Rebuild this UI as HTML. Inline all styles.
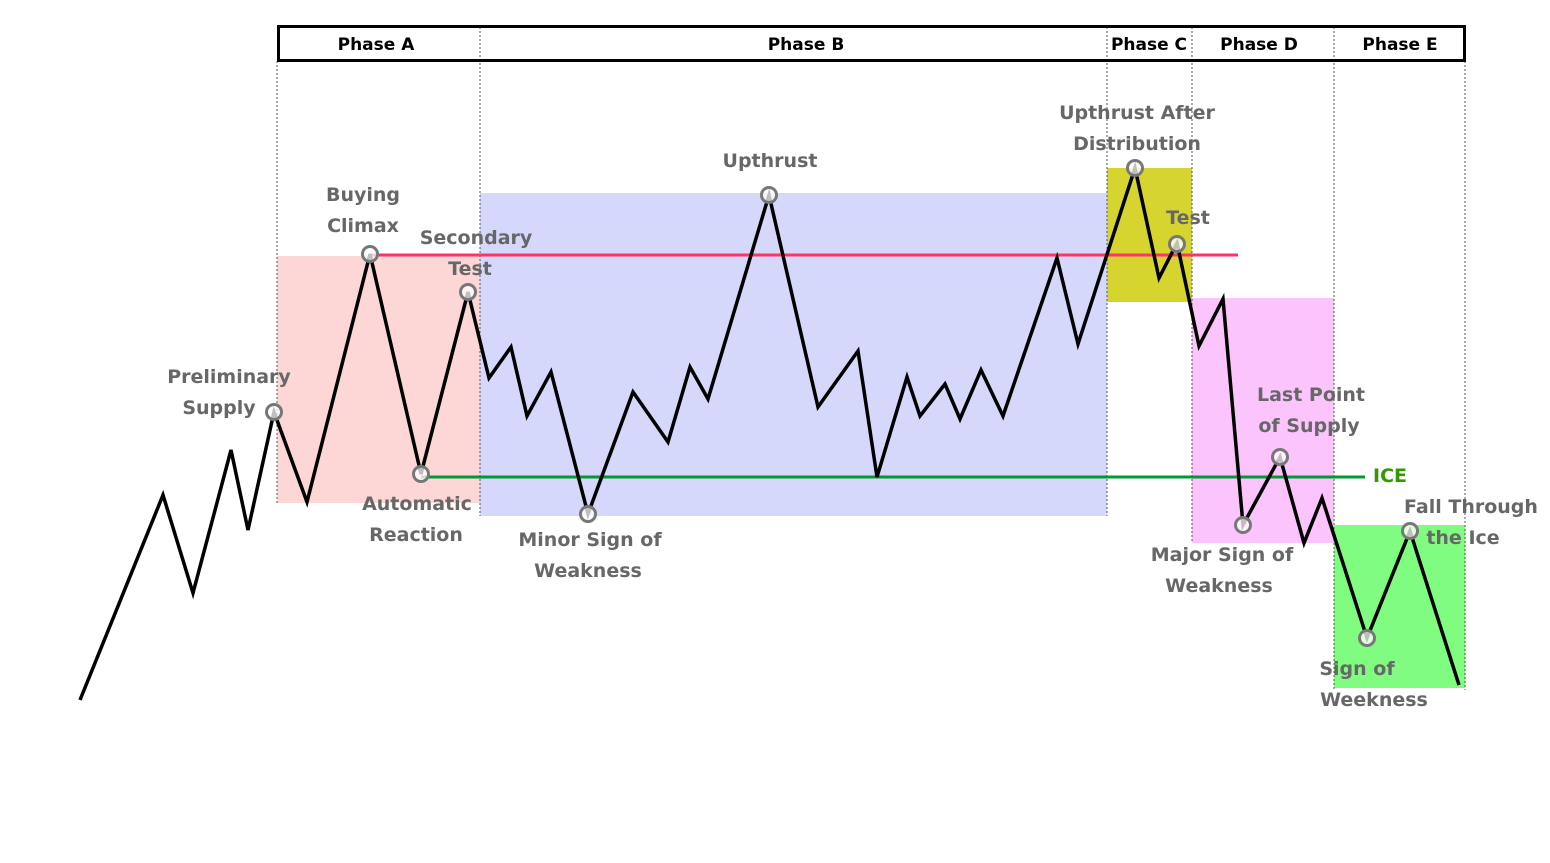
<!DOCTYPE html>
<html><head><meta charset="utf-8"><style>
html,body{margin:0;padding:0;background:#fff;}
svg{display:block;}
.l{font-family:"DejaVu Sans","Liberation Sans",sans-serif;font-weight:bold;font-size:19px;fill:#676767;text-anchor:middle;}
.p{font-family:"DejaVu Sans","Liberation Sans",sans-serif;font-weight:bold;font-size:17px;fill:#000;text-anchor:middle;}
</style></head><body>
<svg width="1550" height="863" viewBox="0 0 1550 863" xmlns="http://www.w3.org/2000/svg">
<rect x="277" y="256" width="203" height="247" fill="#fdd6d6"/>
<rect x="480" y="193" width="627" height="323" fill="#d5d8fb"/>
<rect x="1107" y="168" width="85" height="134" fill="#d6d530"/>
<rect x="1192" y="298" width="142" height="245" fill="#fcc4fc"/>
<rect x="1334" y="525" width="131" height="163" fill="#80fd80"/>
<g stroke="#555" stroke-width="1" stroke-dasharray="2,2">
<line x1="277" y1="61" x2="277" y2="503"/>
<line x1="480" y1="27" x2="480" y2="516"/>
<line x1="1107" y1="27" x2="1107" y2="516"/>
<line x1="1192" y1="27" x2="1192" y2="543"/>
<line x1="1334" y1="27" x2="1334" y2="690"/>
<line x1="1465" y1="61" x2="1465" y2="690"/>
</g>
<rect x="278.5" y="26.5" width="1186" height="34" fill="none" stroke="#000" stroke-width="3"/>
<text class="p" x="376" y="50">Phase A</text>
<text class="p" x="806" y="50">Phase B</text>
<text class="p" x="1149" y="50">Phase C</text>
<text class="p" x="1259" y="50">Phase D</text>
<text class="p" x="1400" y="50">Phase E</text>
<line x1="370" y1="255" x2="1238" y2="255" stroke="#ff3366" stroke-width="3"/>
<line x1="421" y1="477" x2="1365" y2="477" stroke="#009933" stroke-width="3"/>
<polyline fill="none" stroke="#000" stroke-width="3.5" stroke-linejoin="miter" points="80,700 163,495 193,593 231,450 248,530 274,412 307,502 370,254 421,474 468,292 489,378 511,347 527,416 551,372 588,514 633,392 668,442 690,367 708,399 769,195 818,407 858,351 877,477 907,377 920,416 945,384 960,419 981,370 1003,416 1057,258 1078,344 1135,168 1159,278 1177,243 1199,346 1223,299 1243,525 1280,457 1304,543 1322,498 1367,638 1410,531 1459,685"/>
<g fill="rgba(255,255,255,0.75)" stroke="#777" stroke-width="3">
<circle cx="274" cy="412" r="7.5"/><circle cx="370" cy="254" r="7.5"/><circle cx="421" cy="474" r="7.5"/>
<circle cx="468" cy="292" r="7.5"/><circle cx="588" cy="514" r="7.5"/><circle cx="769" cy="195" r="7.5"/>
<circle cx="1135" cy="168" r="7.5"/><circle cx="1177" cy="244" r="7.5"/><circle cx="1243" cy="525" r="7.5"/>
<circle cx="1280" cy="457" r="7.5"/><circle cx="1367" cy="638" r="7.5"/><circle cx="1410" cy="531" r="7.5"/>
</g>
<text class="l" x="229" y="383">Preliminary</text><text class="l" x="219" y="414">Supply</text>
<text class="l" x="363" y="201">Buying</text><text class="l" x="363" y="232">Climax</text>
<text class="l" x="476" y="244">Secondary</text><text class="l" x="470" y="275">Test</text>
<text class="l" x="417" y="510">Automatic</text><text class="l" x="416" y="541">Reaction</text>
<text class="l" x="590" y="546">Minor Sign of</text><text class="l" x="588" y="577">Weakness</text>
<text class="l" x="770" y="167">Upthrust</text>
<text class="l" x="1137" y="119">Upthrust After</text><text class="l" x="1137" y="150">Distribution</text>
<text class="l" x="1188" y="224">Test</text>
<text class="l" x="1311" y="401">Last Point</text><text class="l" x="1309" y="432">of Supply</text>
<text class="l" x="1222" y="561">Major Sign of</text><text class="l" x="1219" y="592">Weakness</text>
<text class="l" x="1471" y="513">Fall Through</text><text class="l" x="1463" y="544">the Ice</text>
<text class="l" x="1357" y="675">Sign of</text><text class="l" x="1374" y="706">Weekness</text>
<text x="1390" y="482" style="font-family:'DejaVu Sans','Liberation Sans',sans-serif;font-weight:bold;font-size:19px;fill:#339900;text-anchor:middle;">ICE</text>
</svg>
</body></html>
